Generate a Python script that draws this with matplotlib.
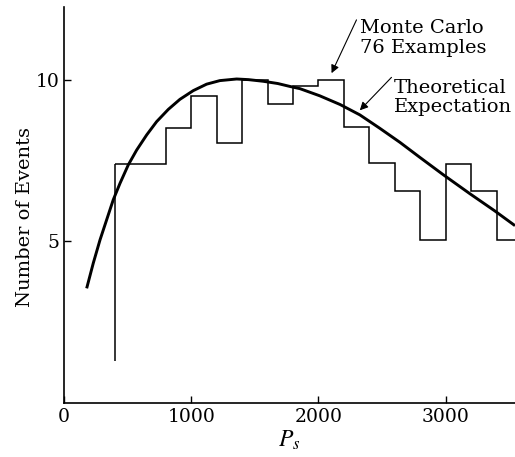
import numpy as np
import matplotlib
matplotlib.use("Agg")
import matplotlib.pyplot as plt

plt.rcParams["font.family"] = "DejaVu Serif"
plt.rcParams["mathtext.fontset"] = "stix"

# histogram of the Monte Carlo examples (bin edges and heights)
bin_edges = [400, 600, 800, 1000, 1200, 1400, 1600, 1800, 2000, 2200,
             2400, 2600, 2800, 3000, 3200, 3400, 3600]
mc_counts = [7.4, 7.4, 8.5, 9.5, 8.05, 10.0, 9.25, 9.8, 10.0, 8.52,
             7.41, 6.54, 5.04, 7.4, 6.54, 5.04]
first_edge_low = 1.3

# theoretical expectation
theory_x = [178, 230, 283, 335, 387, 440, 505, 571, 650, 728, 820, 911,
            1016, 1121, 1225, 1357, 1450, 1565, 1680, 1775, 1855, 2010,
            2170, 2325, 2480, 2640, 2795, 2980, 3190, 3385, 3545]
theory_y = [3.54, 4.32, 5.04, 5.66, 6.28, 6.79, 7.36, 7.82, 8.29, 8.70,
            9.08, 9.39, 9.66, 9.86, 9.97, 10.02, 10.0, 9.95, 9.88, 9.79,
            9.72, 9.50, 9.23, 8.91, 8.50, 8.06, 7.60, 7.06, 6.47, 5.94, 5.48]

fig = plt.figure(figsize=(5.15, 4.57), dpi=100)
ax = fig.add_axes([0.1243, 0.1188, 0.8757, 0.866])

ax.stairs(mc_counts, bin_edges, baseline=None, color="black", lw=1.1)
ax.vlines(bin_edges[0], first_edge_low, mc_counts[0], color="black", lw=1.1)
ax.plot(theory_x, theory_y, color="black", lw=2.1, solid_capstyle="butt",
        solid_joinstyle="round")

ax.set_xlim(0, 3545)
ax.set_ylim(0, 12.25)
ax.set_xticks([0, 1000, 2000, 3000])
ax.set_yticks([5, 10])
ax.tick_params(direction="in", length=5, width=1, labelsize=13.5, pad=4)
ax.tick_params(axis="y", pad=3)
for s in ["top", "right"]:
    ax.spines[s].set_visible(False)
for s in ["left", "bottom"]:
    ax.spines[s].set_linewidth(1.2)

ax.set_ylabel("Number of Events", fontsize=14)
ax.yaxis.set_label_coords(-0.066, 0.469)
ax.set_xlabel("$P_s$", fontsize=17, labelpad=2)

# annotations
ax.annotate("", xy=(2103, 10.2), xytext=(2299, 11.85),
            arrowprops=dict(arrowstyle="-|>", color="black", lw=0.8,
                            mutation_scale=12, shrinkA=0, shrinkB=0))
ax.text(2330, 11.45, "Monte Carlo", fontsize=14, va="baseline", ha="left")
ax.text(2330, 10.83, "76 Examples", fontsize=14, va="baseline", ha="left")

ax.annotate("", xy=(2325, 9.05), xytext=(2574, 10.07),
            arrowprops=dict(arrowstyle="-|>", color="black", lw=0.8,
                            mutation_scale=12, shrinkA=0, shrinkB=0))
ax.text(2590, 9.6, "Theoretical", fontsize=14, va="baseline", ha="left")
ax.text(2590, 9.0, "Expectation", fontsize=14, va="baseline", ha="left")

fig.savefig("out.png", dpi=100)
